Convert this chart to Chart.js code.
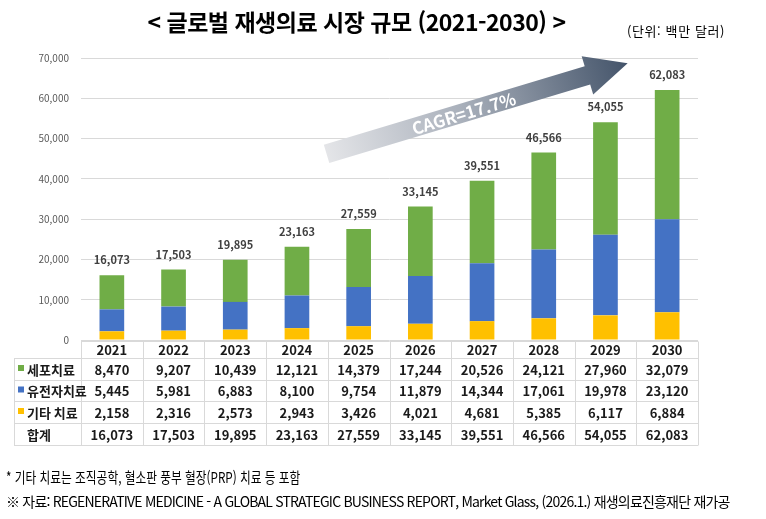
<!DOCTYPE html>
<html lang="ko">
<head>
<meta charset="utf-8">
<script src="https://cdn.jsdelivr.net/npm/chart.js@4"></script>
<style>
  body { margin: 0; background: #fff; font-family: "Noto Sans CJK KR", sans-serif; }
  #wrap { position: relative; width: 766px; height: 519px; overflow: hidden; }
  #title { position: absolute; top: 4px; left: 140px; width: 433px; text-align: center;
    font-size: 23px; font-weight: bold; color: #000; white-space: nowrap; letter-spacing: -0.5px; }
  #unit { position: absolute; top: 21px; left: 627px; font-size: 13px; color: #000; white-space: nowrap; letter-spacing: 0.6px; }
  .note { position: absolute; left: 6px; color: #000; white-space: nowrap; transform-origin: 0 0; }
  #note1 { top: 466px; font-size: 15px; }
  #note2 { top: 491px; font-size: 14px; letter-spacing: -0.8px; }
  canvas { position: absolute; left: 0; top: 0; }
</style>
</head>
<body>
<div id="wrap">
  <canvas id="marketChart" width="766" height="519"></canvas>
  <div id="title">&lt; 글로벌 재생의료 시장 규모 (2021-2030) &gt;</div>
  <div id="unit">(단위: 백만 달러)</div>
  <div class="note" id="note1">* 기타 치료는 조직공학, 혈소판 풍부 혈장(PRP) 치료 등 포함</div>
  <div class="note" id="note2">※ 자료: REGENERATIVE MEDICINE - A GLOBAL STRATEGIC BUSINESS REPORT, Market Glass, (2026.1.) 재생의료진흥재단 재가공</div>
</div>
<script>
const years = ["2021", "2022", "2023", "2024", "2025", "2026", "2027", "2028", "2029", "2030"];
const cellTherapy = [8470, 9207, 10439, 12121, 14379, 17244, 20526, 24121, 27960, 32079];
const geneTherapy = [5445, 5981, 6883, 8100, 9754, 11879, 14344, 17061, 19978, 23120];
const otherTherapy = [2158, 2316, 2573, 2943, 3426, 4021, 4681, 5385, 6117, 6884];
const totals = [16073, 17503, 19895, 23163, 27559, 33145, 39551, 46566, 54055, 62083];
const cagrText = "CAGR=17.7%";

const GREEN = "#70AD47";
const BLUE = "#4472C4";
const YELLOW = "#FFC000";
const FONT = '"Noto Sans CJK KR", sans-serif';

function fmt(v) {
  return v.toLocaleString("en-US");
}

// squeeze a text block into a given width
function fitWidth(id, maxW, origin) {
  const el = document.getElementById(id);
  const w = el.scrollWidth;
  if (w > maxW) {
    el.style.transform = "scaleX(" + (maxW / w) + ")";
    if (origin) el.style.transformOrigin = origin;
  }
}

document.addEventListener("DOMContentLoaded", function () {
  fitWidth("note1", 294);
  fitWidth("note2", 754);
  fitWidth("title", 433, "50% 0");
  fitWidth("unit", 133);
});

// totals above each bar
const totalLabels = {
  id: "totalLabels",
  afterDatasetsDraw(chart) {
    const ctx = chart.ctx;
    const x = chart.scales.x;
    const y = chart.scales.y;
    ctx.save();
    ctx.font = "bold 11px " + FONT;
    ctx.fillStyle = "#404040";
    ctx.textAlign = "center";
    ctx.textBaseline = "middle";
    totals.forEach(function (t, i) {
      ctx.fillText(fmt(t), x.getPixelForValue(i), y.getPixelForValue(t) - 15);
    });
    ctx.restore();
  },
};

// growth arrow
const cagrArrow = {
  id: "cagrArrow",
  afterDatasetsDraw(chart) {
    const ctx = chart.ctx;
    const x = chart.scales.x;
    const y = chart.scales.y;
    const x0 = x.getPixelForValue(3.48), y0 = y.getPixelForValue(46200);
    const x1 = x.getPixelForValue(8.36), y1 = y.getPixelForValue(68700);
    const ang = Math.atan2(y1 - y0, x1 - x0);
    const len = Math.hypot(x1 - x0, y1 - y0);
    const half = 9.5, headLen = 42, headHalf = 20;
    ctx.save();
    ctx.translate(x0, y0);
    ctx.rotate(ang);
    const g = ctx.createLinearGradient(0, 0, len, 0);
    g.addColorStop(0, "#e4e5e8");
    g.addColorStop(0.45, "#a9b0bb");
    g.addColorStop(1, "#44546A");
    ctx.fillStyle = g;
    ctx.beginPath();
    ctx.moveTo(0, -half);
    ctx.lineTo(len - headLen, -half);
    ctx.lineTo(len - headLen, -headHalf);
    ctx.lineTo(len, 0);
    ctx.lineTo(len - headLen, headHalf);
    ctx.lineTo(len - headLen, half);
    ctx.lineTo(0, half);
    ctx.closePath();
    ctx.fill();
    ctx.fillStyle = "#ffffff";
    ctx.font = "bold 17px " + FONT;
    ctx.textAlign = "center";
    ctx.textBaseline = "middle";
    ctx.fillText(cagrText, len * 0.455, 1);
    ctx.restore();
  },
};

// data table under the chart
const dataTable = {
  id: "dataTable",
  afterDraw(chart) {
    const ctx = chart.ctx;
    const x = chart.scales.x;
    const area = chart.chartArea;
    const colW = (area.right - area.left) / years.length;
    const tableLeft = 14;
    const rowEdges = [area.bottom + 1, 358, 380, 401, 423, 445];
    const rows = [
      { label: "세포치료", color: GREEN, data: cellTherapy },
      { label: "유전자치료", color: BLUE, data: geneTherapy },
      { label: "기타 치료", color: YELLOW, data: otherTherapy },
      { label: "합계", color: null, data: totals },
    ];
    ctx.save();
    ctx.strokeStyle = "#d9d9d9";
    ctx.lineWidth = 1;
    // horizontal lines
    rowEdges.forEach(function (yy, i) {
      const from = i === 0 ? area.left : tableLeft;
      ctx.beginPath();
      ctx.moveTo(from, Math.round(yy) + 0.5);
      ctx.lineTo(area.right, Math.round(yy) + 0.5);
      ctx.stroke();
    });
    // vertical lines
    ctx.beginPath();
    ctx.moveTo(tableLeft + 0.5, rowEdges[1] + 0.5);
    ctx.lineTo(tableLeft + 0.5, rowEdges[5] + 0.5);
    for (let i = 0; i <= years.length; i++) {
      const xx = Math.round(area.left + i * colW) + 0.5;
      ctx.moveTo(xx, rowEdges[0] + 0.5);
      ctx.lineTo(xx, rowEdges[5] + 0.5);
    }
    ctx.stroke();

    ctx.fillStyle = "#1a1a1a";
    ctx.font = "bold 13px " + FONT;
    ctx.textAlign = "center";
    ctx.textBaseline = "middle";
    years.forEach(function (yr, i) {
      ctx.fillText(yr, x.getPixelForValue(i), (rowEdges[0] + rowEdges[1]) / 2 + 1);
    });
    rows.forEach(function (row, r) {
      const cy = (rowEdges[r + 1] + rowEdges[r + 2]) / 2 + 1;
      ctx.textAlign = "left";
      ctx.fillStyle = "#1a1a1a";
      ctx.fillText(row.label, 27, cy);
      if (row.color) {
        ctx.fillStyle = row.color;
        ctx.fillRect(18, cy - 5, 6, 6);
      }
      ctx.fillStyle = "#1a1a1a";
      ctx.textAlign = "center";
      row.data.forEach(function (v, i) {
        ctx.fillText(fmt(v), x.getPixelForValue(i), cy);
      });
    });
    ctx.restore();
  },
};

new Chart(document.getElementById("marketChart"), {
  type: "bar",
  data: {
    labels: years,
    datasets: [
      {
        label: "기타 치료",
        data: otherTherapy,
        backgroundColor: YELLOW,
        barPercentage: 0.4,
        categoryPercentage: 1,
      },
      {
        label: "유전자치료",
        data: geneTherapy,
        backgroundColor: BLUE,
        barPercentage: 0.4,
        categoryPercentage: 1,
      },
      {
        label: "세포치료",
        data: cellTherapy,
        backgroundColor: GREEN,
        barPercentage: 0.4,
        categoryPercentage: 1,
      },
    ],
  },
  options: {
    responsive: false,
    animation: false,
    devicePixelRatio: 1,
    layout: {
      padding: { top: 58, right: 68, bottom: 179, left: 0 },
    },
    plugins: {
      legend: { display: false },
      tooltip: { enabled: false },
    },
    scales: {
      x: {
        stacked: true,
        display: false,
      },
      y: {
        stacked: true,
        min: 0,
        max: 70000,
        afterFit: function (scale) {
          scale.width = 81;
        },
        border: { display: false },
        grid: {
          color: "#d9d9d9",
          drawTicks: false,
        },
        ticks: {
          stepSize: 10000,
          padding: 12,
          color: "#595959",
          font: { family: FONT, size: 10 },
          callback: function (value) {
            return fmt(value);
          },
        },
      },
    },
  },
  plugins: [cagrArrow, totalLabels, dataTable],
});
</script>
</body>
</html>
